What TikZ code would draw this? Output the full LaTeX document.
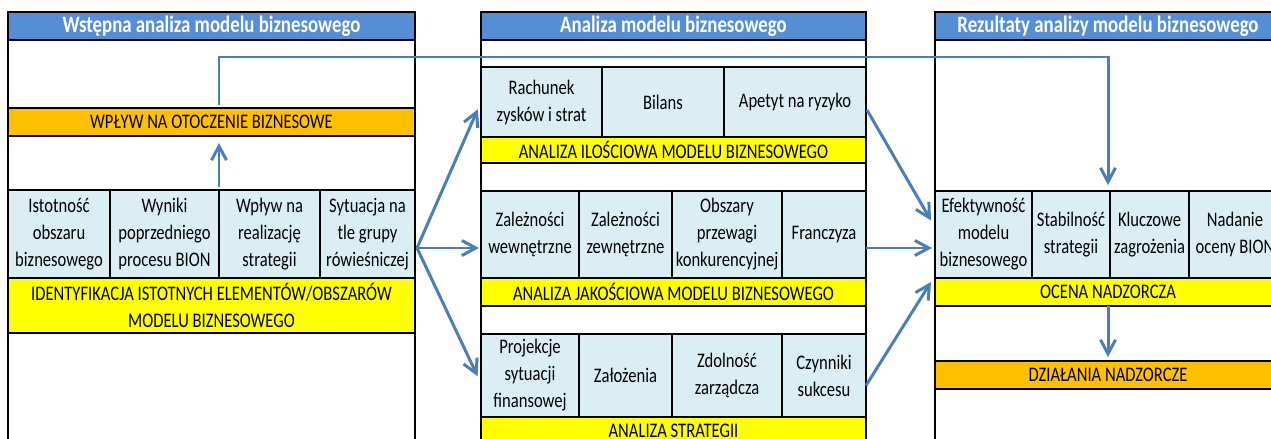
\documentclass[tikz,border=0pt]{standalone}
\usepackage{fontspec}
\setmainfont{Carlito}[FakeStretch=0.8]
\usetikzlibrary{calc,arrows.meta}

\definecolor{headblue}{RGB}{85,142,213}
\definecolor{cellblue}{RGB}{219,238,244}
\definecolor{barorange}{RGB}{255,192,0}
\definecolor{baryellow}{RGB}{255,255,0}
\definecolor{arrowblue}{RGB}{74,126,187}

\tikzset{
  box/.style args={#1/#2/#3/#4}{anchor=north west, at={(#1,#2)}, outer sep=0pt, inner sep=0pt,
    minimum width={(#3-#1)*0.02cm}, minimum height={(#4-#2)*0.02cm}},
  head/.style={draw, line width=1.1pt, fill=headblue, text=white, font=\fontsize{13.4}{16}\selectfont\bfseries},
  cell/.style={draw, line width=0.7pt, fill=cellblue, align=center},
  bar/.style={draw, line width=1.1pt, fill=baryellow, align=center},
  obar/.style={bar, fill=barorange},
  frame/.style={draw, line width=1.1pt},
  flow/.style={draw=arrowblue, line width=1.7pt, -{Straight Barb[length=0.28cm,width=0.3cm]}},
}

\begin{document}
\begin{tikzpicture}[x=0.02cm, y=-0.02cm, font=\fontsize{11.8}{15.4}\selectfont]
  \useasboundingbox (0,0) rectangle (1271,439);
  \fill[white] (0,0) rectangle (1271,439);
  \clip (0,0) rectangle (1271,439);

  % column frames
  \draw[frame] (8,12) rectangle (415,470);
  \draw[frame] (481,12) rectangle (866,470);
  \draw[frame] (935,12) rectangle (1281,470);

  % left column
  \node[head, box=8/12/415/40] (ltitle) {Wstępna analiza modelu biznesowego};
  \node[obar, box=8/108/415/136] (lwplyw) {WPŁYW NA OTOCZENIE BIZNESOWE};
  \node[cell, box=8/190/110/278] (l1) {Istotność\\obszaru\\biznesowego};
  \node[cell, box=110/190/219/278] (l2) {Wyniki\\poprzedniego\\procesu BION};
  \node[cell, box=219/190/320/278] (l3) {Wpływ na\\realizację\\strategii};
  \node[cell, box=320/190/415/278] (l4) {Sytuacja na\\tle grupy\\rówieśniczej};
  \node[bar, box=8/278/415/333] (lident) {IDENTYFIKACJA ISTOTNYCH ELEMENTÓW/OBSZARÓW\\MODELU BIZNESOWEGO};

  % middle column
  \node[head, box=481/12/866/40] (mtitle) {Analiza modelu biznesowego};
  \node[cell, box=481/67/602/137] (m11) {Rachunek\\zysków i strat};
  \node[cell, box=602/67/724/137] (m12) {Bilans};
  \node[cell, box=724/67/866/137] (m13) {Apetyt na ryzyko};
  \node[bar, box=481/137/866/163] (milosc) {ANALIZA ILOŚCIOWA MODELU BIZNESOWEGO};
  \node[cell, box=481/191/579/278] (m21) {Zależności\\wewnętrzne};
  \node[cell, box=579/191/672/278] (m22) {Zależności\\zewnętrzne};
  \node[cell, box=672/191/782/278] (m23) {Obszary\\przewagi\\konkurencyjnej};
  \node[cell, box=782/191/866/278] (m24) {Franczyza};
  \node[bar, box=481/278/866/306] (mjakosc) {ANALIZA JAKOŚCIOWA MODELU BIZNESOWEGO};
  \node[cell, box=481/334/579/417] (m31) {Projekcje\\sytuacji\\finansowej};
  \node[cell, box=579/334/672/417] (m32) {Założenia};
  \node[cell, box=672/334/782/417] (m33) {Zdolność\\zarządcza};
  \node[cell, box=782/334/866/417] (m34) {Czynniki\\sukcesu};
  \node[bar, box=481/417/866/445] (mstrat) {ANALIZA STRATEGII};

  % right column
  \node[head, box=935/12/1281/40] (rtitle) {Rezultaty analizy modelu biznesowego};
  \node[cell, box=935/191/1032/278] (r1) {Efektywność\\modelu\\biznesowego};
  \node[cell, box=1032/191/1110/278] (r2) {Stabilność\\strategii};
  \node[cell, box=1110/191/1189/278] (r3) {Kluczowe\\zagrożenia};
  \node[cell, box=1189/191/1281/278] (r4) {Nadanie\\oceny BION};
  \node[bar, box=935/278/1281/306] (rocena) {OCENA NADZORCZA};
  \node[obar, box=935/361/1281/389] (rdzial) {DZIAŁANIA NADZORCZE};

  % arrows
  \coordinate (toprow) at (0,57);
  \coordinate (fan) at (417,248);
  \draw[flow, shorten <=0.06cm, shorten >=0.14cm] (l3.north west) -- (l3.north west |- lwplyw.south);
  \draw[flow, shorten <=0.06cm, shorten >=0.12cm] (lwplyw.north -| l3.north west) -- (l3.north west |- toprow) -| (rtitle.south |- r1.north);
  \draw[flow, shorten >=0.16cm] (fan) -- (m11.west);
  \draw[flow, shorten >=0.04cm] (fan) -- (fan -| m21.west);
  \draw[flow, shorten >=0.16cm] (fan) -- ($(m31.west)+(0,8)$);
  \draw[flow] ($(m13.east)+(1,8)$) -- ($(r1.west)+(-4,-14)$);
  \draw[flow, shorten >=0.06cm] (fan -| m24.east) -- (fan -| r1.west);
  \draw[flow] ($(m34.east)+(0,10)$) -- ($(r1.south west)+(-4,4)$);
  \draw[flow, shorten >=0.08cm] (rocena.south) -- (rdzial.north);
\end{tikzpicture}
\end{document}
